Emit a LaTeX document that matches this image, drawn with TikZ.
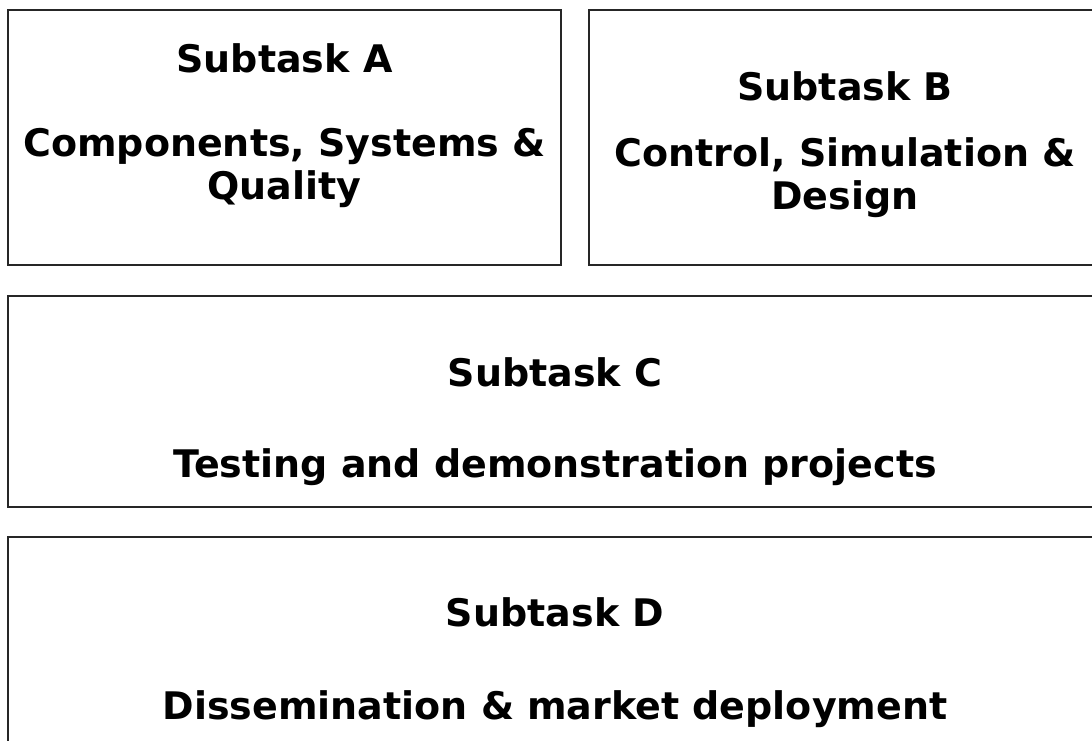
\documentclass[tikz,border=0pt]{standalone}
\usepackage{fontspec}
\setmainfont{DejaVu Sans}
\begin{document}
\begin{tikzpicture}
[x=1pt,y=1pt,
  taskbox/.style={draw=black!85,line width=2pt},%
  tasktext/.style={font=\bfseries\fontsize{38}{43}\selectfont,align=center,anchor=base,inner sep=0pt}]
\useasboundingbox (0,0) rectangle (1092,-740);
%% boxes
\foreach \boxname/\xa/\ya/\xb/\yb in {boxA/8/10/561/265, boxB/589/10/1102/265,
  boxC/8/296/1102/507, boxD/8/537/1102/760} {
  \draw[taskbox] (\xa,-\ya) rectangle (\xb,-\yb) coordinate (\boxname);
}
%% titles
\foreach \nodename/\x/\y/\letter in {titleA/284.5/72/A, titleB/845/100/B,
  titleC/555/386/C, titleD/555/626/D} {
  \node[tasktext] (\nodename) at (\x,-\y) {Subtask \letter};
}
%% subtask names (base = last line)
\node[tasktext] (nameA) at (284.5,-199) {Components, Systems \&\\Quality};
\node[tasktext] (nameB) at (845,-209) {Control, Simulation \&\\Design};
\node[tasktext] (nameC) at (555,-477) {Testing and demonstration projects};
\node[tasktext] (nameD) at (555,-719) {Dissemination \& market deployment};
\end{tikzpicture}
\end{document}
